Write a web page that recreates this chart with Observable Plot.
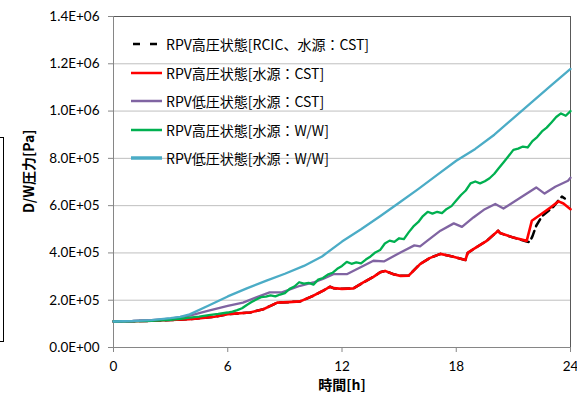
<!DOCTYPE html>
<html><head><meta charset="utf-8">
<script src="https://cdn.jsdelivr.net/npm/d3@7"></script>
<script src="https://cdn.jsdelivr.net/npm/@observablehq/plot@0.6"></script>
<style>
body{margin:0;background:#fff;}
#wrap{position:relative;width:577px;height:396px;overflow:hidden;font-family:"Noto Sans CJK JP","Noto Sans",sans-serif;}
#wrap svg.chart{position:absolute;left:0;top:0;}
.leg{position:absolute;left:0;top:0;width:577px;height:396px;pointer-events:none;}
.leg .row{position:absolute;left:131px;height:20px;display:flex;align-items:center;font-size:14px;color:#000;white-space:nowrap;}
.leg .row svg{margin-right:4px;}
.stray{position:absolute;left:0;top:137px;width:3px;height:203px;border-top:1px solid #000;border-right:1px solid #000;border-bottom:1px solid #000;}
</style></head><body><div id="wrap"><div class="stray"></div></div>
<script>
// ---- data ----
const seriesNames = ["RPV高圧状態[RCIC、水源：CST]","RPV高圧状態[水源：CST]","RPV低圧状態[水源：CST]","RPV高圧状態[水源：W/W]","RPV低圧状態[水源：W/W]"];
const seriesColors = ["#000000","#ff0000","#8064a2","#00b050","#4bacc6"];
const xTicks = [0,6,12,18,24];
const yTicks = [0,2e5,4e5,6e5,8e5,1e6,1.2e6,1.4e6];
const xTitle = "時間[h]";
const yTitle = "D/W圧力[Pa]";

const tRed = [0,1,2,3,4,4.57,5.3,6,7.17,7.87,8.3,8.6,9.2,9.8,10.5,11.0,11.37,11.55,12.0,12.6,13.12,13.65,14.0,14.26,14.7,15.07,15.5,16.1,16.6,17.17,17.8,18.48,18.6,18.9,19.6,20.2,20.3,21.0,21.7,21.97,22.58,23.0,23.37,23.63,24];
const vRed = [110e3,111e3,113e3,116e3,120e3,124e3,130e3,141e3,148e3,162e3,178e3,190e3,192e3,195e3,219e3,240e3,257e3,251e3,248e3,250e3,275e3,299e3,318e3,324e3,310e3,303e3,304e3,353e3,378e3,396e3,385e3,370e3,400e3,416e3,451e3,494e3,484e3,465e3,451e3,536e3,571e3,595e3,618e3,609e3,585e3];

const tBlack = [0,1,2,3,4,4.57,5.3,6,7.17,7.87,8.3,8.6,9.2,9.8,10.5,11.0,11.37,11.55,12.0,12.6,13.12,13.65,14.0,14.26,14.7,15.07,15.5,16.1,16.6,17.17,17.8,18.48,18.6,18.9,19.6,20.2,20.3,21.0,21.7,21.85,22.0,22.2,22.5,22.8,23.1,23.4,23.55,23.7];
const vBlack = [110e3,111e3,113e3,116e3,120e3,124e3,130e3,141e3,148e3,162e3,178e3,190e3,192e3,195e3,219e3,240e3,257e3,251e3,248e3,250e3,275e3,299e3,318e3,324e3,310e3,303e3,304e3,353e3,378e3,396e3,385e3,370e3,400e3,416e3,451e3,494e3,484e3,465e3,448e3,446e3,470e3,515e3,555e3,575e3,595e3,625e3,638e3,630e3];

const tPurple = [0,1,2,3,4,5,6,6.8,7.5,8.2,8.84,9.8,10.5,11,11.55,12.25,12.95,13.65,14.2,15.07,15.8,16.1,16.47,17.17,17.87,18.3,18.9,19.5,20.05,20.48,21.3,22.2,22.64,23.2,23.87,24];
const vPurple = [110e3,112e3,116e3,122e3,135e3,156e3,176e3,190e3,212e3,233e3,233e3,261e3,275e3,290e3,310e3,310e3,338e3,367e3,364e3,402e3,432e3,428e3,451e3,494e3,525e3,510e3,550e3,585e3,607e3,588e3,630e3,677e3,651e3,680e3,705e3,718e3];

const tGreen = [0,1,2,3,3.5,4,4.5,5,5.5,6,6.25,6.5,6.75,7,7.25,7.5,7.75,8,8.25,8.5,8.75,9,9.25,9.5,9.75,10,10.25,10.5,10.75,11,11.25,11.5,11.75,12,12.25,12.5,12.75,13,13.25,13.5,13.75,14,14.25,14.5,14.75,15,15.25,15.5,15.75,16,16.25,16.5,16.75,17,17.25,17.5,17.75,18,18.25,18.5,18.75,19,19.25,19.5,19.75,20,20.25,20.5,20.75,21,21.25,21.5,21.75,22,22.25,22.5,22.75,23,23.25,23.5,23.75,24];
const vGreen = [110e3,111e3,113e3,117e3,121e3,126e3,131e3,137e3,142e3,148e3,152e3,158e3,166e3,180e3,192e3,203e3,213e3,215e3,220e3,216e3,224e3,230e3,248e3,258e3,276e3,270e3,273e3,266e3,287e3,294e3,308e3,316e3,333e3,345e3,362e3,354e3,360e3,356e3,372e3,385e3,402e3,412e3,440e3,452e3,447e3,462e3,458e3,487e3,512e3,530e3,556e3,574e3,566e3,574e3,568e3,586e3,598e3,622e3,645e3,664e3,694e3,702e3,694e3,703e3,716e3,735e3,760e3,785e3,810e3,836e3,841e3,850e3,846e3,873e3,890e3,914e3,930e3,952e3,975e3,990e3,980e3,1000e3];

const tBlue = [0,1,2,3,3.5,4,5,6,7,8,9,10,10.95,12,13,14,15,16,17,18,19,20,21,22,23,24];
const vBlue = [110e3,112e3,116e3,124e3,130e3,140e3,178e3,216e3,250e3,282e3,312e3,345e3,385e3,448e3,500e3,555e3,612e3,670e3,730e3,790e3,840e3,900e3,970e3,1040e3,1110e3,1178e3];

// ---- build ----
const toRows = (ts, vs) => ts.map((t, i) => ({t, v: vs[i]}));
const rowsBlack = toRows(tBlack, vBlack);
const rowsRed = toRows(tRed, vRed);
const rowsPurple = toRows(tPurple, vPurple);
const rowsGreen = toRows(tGreen, vGreen);
const rowsBlue = toRows(tBlue, vBlue);

const fmt = v => { const [m, e] = v.toExponential(1).split("e"); return m + "E" + e[0] + e.slice(1).padStart(2, "0"); };
const FONT = '"Noto Sans CJK JP","Noto Sans",sans-serif';
const TICKFONT = 'Lato,"Noto Sans",sans-serif';

const chart = Plot.plot({
  width: 577, height: 396,
  marginLeft: 113, marginRight: 7, marginTop: 16, marginBottom: 49,
  style: {fontFamily: FONT, fontSize: "14px", color: "#000", background: "transparent", overflow: "visible"},
  x: {domain: [0, 24]},
  y: {domain: [0, 1.4e6]},
  marks: [
    Plot.gridY(yTicks, {stroke: "#bfbfbf", strokeOpacity: 1, strokeWidth: 1}),
    Plot.ruleY([1.4e6], {stroke: "#595959", strokeWidth: 1}),
    Plot.ruleX([24], {stroke: "#595959", strokeWidth: 1}),
    Plot.ruleX([0], {stroke: "#868686", strokeWidth: 1}),
    Plot.ruleY([0], {stroke: "#868686", strokeWidth: 1}),
    Plot.axisY(yTicks, {tickFormat: fmt, tickSize: 5, tickPadding: 9, label: null, stroke: "#868686", fill: "#000", fontSize: 13.5, fontFamily: TICKFONT}),
    Plot.axisX(xTicks, {tickSize: 5, tickPadding: 9, label: null, stroke: "#868686", fill: "#000", fontSize: 13.5, fontFamily: TICKFONT}),
    Plot.line(rowsBlack, {x: "t", y: "v", stroke: seriesColors[0], strokeWidth: 2.5, strokeDasharray: "8,5"}),
    Plot.line(rowsRed, {x: "t", y: "v", stroke: seriesColors[1], strokeWidth: 2.6}),
    Plot.line(rowsPurple, {x: "t", y: "v", stroke: seriesColors[2], strokeWidth: 2.3}),
    Plot.line(rowsGreen, {x: "t", y: "v", stroke: seriesColors[3], strokeWidth: 2.3}),
    Plot.line(rowsBlue, {x: "t", y: "v", stroke: seriesColors[4], strokeWidth: 2.3}),
    Plot.text([xTitle], {text: d => d, frameAnchor: "bottom", dy: 42, fontWeight: "bold", fontSize: 14, fill: "#000"}),
    Plot.text([yTitle], {text: d => d, frameAnchor: "left", rotate: -90, dx: -84, dy: 31, fontWeight: "bold", fontSize: 14, fill: "#000"})
  ]
});
chart.classList.add("chart");
const wrap = document.getElementById("wrap");
wrap.appendChild(chart);

// ---- legend ----
const leg = document.createElement("div");
leg.className = "leg";
seriesNames.forEach((name, i) => {
  const row = document.createElement("div");
  row.className = "row";
  row.style.top = (44 + i * 28.6 - 10) + "px";
  const ns = "http://www.w3.org/2000/svg";
  const s = document.createElementNS(ns, "svg");
  s.setAttribute("width", 31); s.setAttribute("height", 8);
  const l = document.createElementNS(ns, "line");
  l.setAttribute("x1", 0); l.setAttribute("x2", 31); l.setAttribute("y1", 4); l.setAttribute("y2", 4);
  l.setAttribute("stroke", seriesColors[i]);
  l.setAttribute("stroke-width", i === 4 ? 3.5 : 2.5);
  if (i === 0) { l.setAttribute("stroke-dasharray", "7,10"); l.setAttribute("stroke-dashoffset", "-2"); }
  s.appendChild(l);
  row.appendChild(s);
  const sp = document.createElement("span");
  sp.textContent = name;
  row.appendChild(sp);
  leg.appendChild(row);
});
wrap.appendChild(leg);
</script>
</body></html>
